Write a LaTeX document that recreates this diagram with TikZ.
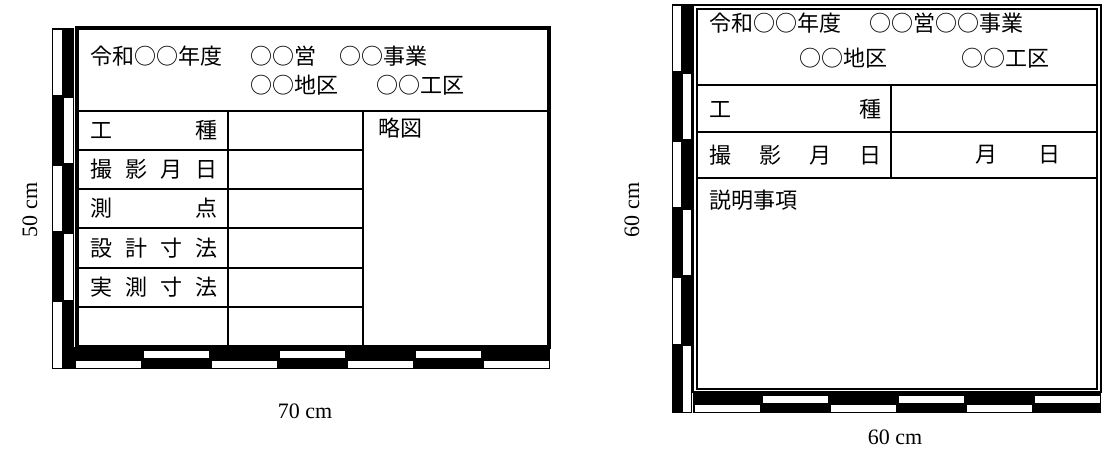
\documentclass[tikz,border=0pt]{standalone}
\usepackage{fontspec}
\setmainfont{Liberation Serif}
\newfontfamily\jpfont{Noto Sans CJK JP}
\tikzset{
  jtxt/.style={inner sep=0pt, anchor=west, font=\jpfont\fontsize{11}{13}\selectfont},
  cmtxt/.style={inner sep=0pt, font=\fontsize{11}{13}\selectfont},
}
\newcommand{\spreadL}[1]{\makebox[63.5pt][s]{#1}}
\newcommand{\spreadR}[1]{\makebox[86pt][s]{#1}}

\begin{document}
\begin{tikzpicture}[x=0.5pt, y=-0.5pt, line width=1.2pt]
\useasboundingbox (0,0) rectangle (1104,450);

% 左：黒板 70cm x 50cm
% 縦の標尺
\fill (52,28) rectangle (74,369);
\foreach \i in {0,2,4} \fill[white] (53.2,{29.5+68.2*\i}) rectangle (62,{26.7+68.2*(\i+1)});
\foreach \i in {1,3} \fill[white] (64,{29.5+68.2*\i}) rectangle (72.8,{26.7+68.2*(\i+1)});
% 横の標尺
\fill (74,347) rectangle (550,369);
\foreach \i in {0,2,4,6} \fill[white] ({75.5+68*\i},360.5) rectangle ({72.5+68*(\i+1)},367.8);
\foreach \i in {1,3,5} \fill[white] ({75.5+68*\i},351) rectangle ({72.5+68*(\i+1)},358);
% 枠
\draw[line width=1.6pt] (77,28) rectangle (549,347);
\draw (77,111) -- (549,111);
\draw (228,111) -- (228,347);
\draw (363,111) -- (363,347);
\foreach \y in {150,189,228,268,307} \draw (77,\y) -- (363,\y);

\node[jtxt] (nendoL) at (89,56) {令和○○年度};
\node[jtxt] (eiL) at (249,56) {○○営};
\node[jtxt] (jigyoL) at (338,56) {○○事業};
\node[jtxt] (chikuL) at (249,85) {○○地区};
\node[jtxt] (kokuL) at (375,85) {○○工区};
\node[jtxt] (koshuL) at (89,130.5) {\spreadL{工\hfill 種}};
\node[jtxt] (satsuL) at (89,169.5) {\spreadL{撮\hfill 影\hfill 月\hfill 日}};
\node[jtxt] (sokuL) at (89,208.5) {\spreadL{測\hfill 点}};
\node[jtxt] (sekkeiL) at (89,248) {\spreadL{設\hfill 計\hfill 寸\hfill 法}};
\node[jtxt] (jissokuL) at (89,287.5) {\spreadL{実\hfill 測\hfill 寸\hfill 法}};
\node[jtxt] (ryakuzu) at (377,128) {略図};

\node[cmtxt, rotate=90] (tateL) at (30,210) {50 cm};
\node[cmtxt] (yokoL) at (305,411) {70 cm};

% 右：黒板 60cm x 60cm
% 縦の標尺
\fill (672,4) rectangle (692,413);
\foreach \i in {0,2,4} \fill[white] (673.2,{5.5+68.17*\i}) rectangle (681,{2.7+68.17*(\i+1)});
\foreach \i in {1,3,5} \fill[white] (683,{5.5+68.17*\i}) rectangle (690.8,{2.7+68.17*(\i+1)});
% 横の標尺
\fill (693,393) rectangle (1101,413);
\foreach \i in {0,2,4} \fill[white] ({694.5+68*\i},404.5) rectangle ({691.5+68*(\i+1)},412);
\foreach \i in {1,3,5} \fill[white] ({694.5+68*\i},396) rectangle ({691.5+68*(\i+1)},402.5);
% 枠（二重線）
\draw[line width=1pt] (692.5,5) rectangle (1100.5,392);
\draw[line width=1pt] (696.5,8.5) rectangle (1097,388.5);
\draw (696.5,85) -- (1097,85);
\draw (696.5,132) -- (1097,132);
\draw (696.5,178) -- (1097,178);
\draw (891,85) -- (891,178);

\node[jtxt] (nendoR) at (708,23) {令和○○年度};
\node[jtxt] (eiR) at (868,23) {○○営○○事業};
\node[jtxt] (chikuR) at (798,58) {○○地区};
\node[jtxt] (kokuR) at (960,58) {○○工区};
\node[jtxt] (koshuR) at (708,109) {\spreadR{工\hfill 種}};
\node[jtxt] (satsuR) at (708,155) {\spreadR{撮\hfill 影\hfill 月\hfill 日}};
\node[jtxt] (tsukiR) at (974,155) {月};
\node[jtxt] (hiR) at (1037,155) {日};
\node[jtxt] (setsumei) at (708,200) {説明事項};

\node[cmtxt, rotate=90] (tateR) at (632,210) {60 cm};
\node[cmtxt] (yokoR) at (895,437) {60 cm};
\end{tikzpicture}
\end{document}
